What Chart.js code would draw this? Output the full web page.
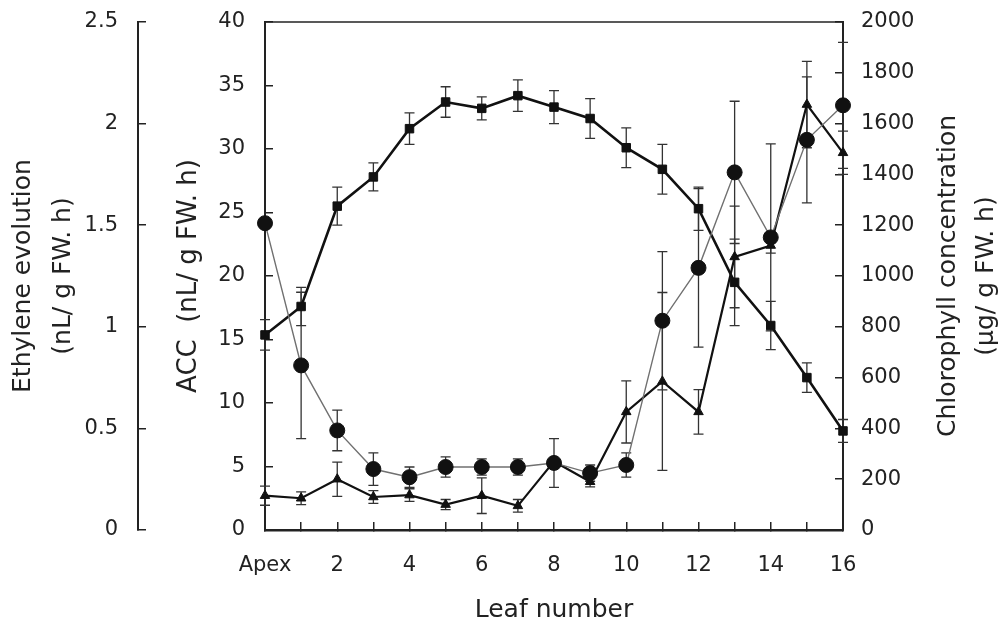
<!DOCTYPE html>
<html>
<head>
<meta charset="utf-8">
<title>Leaf number profile</title>
<script src="https://cdn.jsdelivr.net/npm/chart.js@4.4.1/dist/chart.umd.min.js"></script>
<style>
  html, body { margin: 0; padding: 0; background: #fff; }
  canvas { display: block; }
</style>
</head>
<body>
<canvas id="leafChart" width="999" height="626"></canvas>
<script>
const leafLabels = ['Apex', '1', '2', '3', '4', '5', '6', '7', '8', '9', '10', '11', '12', '13', '14', '15', '16'];

// chlorophyll, µg/g FW (squares)
const chlorophyll    = [768, 880, 1275, 1390, 1580, 1685, 1660, 1710, 1665, 1620, 1505, 1420, 1265, 975, 805, 600, 390];
const chlorophyllErr = [60, 75, 75, 55, 62, 60, 45, 62, 65, 78, 78, 98, 85, 170, 95, 58, 45];

// ethylene evolution, nL/g FW.h (circles)
const ethylene    = [1.51, 0.81, 0.49, 0.30, 0.26, 0.31, 0.31, 0.31, 0.33, 0.28, 0.32, 1.03, 1.29, 1.76, 1.44, 1.92, 2.09];
const ethyleneErr = [0, 0.36, 0.10, 0.08, 0.05, 0.05, 0.04, 0.04, 0.12, 0.04, 0.06, 0.34, 0.39, 0.35, 0.46, 0.31, 0.31];

// ACC, nL/g FW.h (triangles)
const acc    = [2.7, 2.5, 4.0, 2.6, 2.75, 2.0, 2.7, 1.9, 5.4, 3.8, 9.3, 11.7, 9.3, 21.5, 22.4, 33.5, 29.7];
const accErr = [0.75, 0.5, 1.35, 0.5, 0.5, 0.4, 1.4, 0.5, 0, 0.4, 2.45, 7.0, 1.75, 4.0, 0.6, 3.4, 1.7];

const FONT = "'DejaVu Sans', sans-serif";
const INK = '#222';

// vertical error bars with caps, drawn under the markers
const errorBars = {
  id: 'errorBars',
  beforeDatasetsDraw(chart) {
    const ctx = chart.ctx;
    chart.data.datasets.forEach((ds, i) => {
      if (!ds.errors) return;
      const meta = chart.getDatasetMeta(i);
      const scale = chart.scales[ds.yAxisID];
      ctx.save();
      ctx.strokeStyle = '#333';
      ctx.lineWidth = 1.3;
      meta.data.forEach((pt, j) => {
        const e = ds.errors[j];
        if (!e) return;
        const top = scale.getPixelForValue(ds.data[j] + e);
        const bot = scale.getPixelForValue(ds.data[j] - e);
        ctx.beginPath();
        ctx.moveTo(pt.x, top); ctx.lineTo(pt.x, bot);
        ctx.moveTo(pt.x - 5, top); ctx.lineTo(pt.x + 5, top);
        ctx.moveTo(pt.x - 5, bot); ctx.lineTo(pt.x + 5, bot);
        ctx.stroke();
      });
      ctx.restore();
    });
  }
};

// top edge of the frame and the right-hand title (reads bottom to top)
const frame = {
  id: 'frame',
  afterDraw(chart) {
    const { ctx, chartArea: a } = chart;
    ctx.save();
    ctx.strokeStyle = INK;
    ctx.lineWidth = 1.5;
    ctx.beginPath();
    ctx.moveTo(a.left, a.top);
    ctx.lineTo(a.right, a.top);
    ctx.stroke();

    const s = chart.scales.yChl;
    ctx.translate(s.left + 105, (a.top + a.bottom) / 2);
    ctx.rotate(-Math.PI / 2);
    ctx.fillStyle = INK;
    ctx.font = '25px ' + FONT;
    ctx.textAlign = 'center';
    ctx.textBaseline = 'middle';
    ctx.fillText('Chlorophyll concentration', 0, 0);
    ctx.fillText('(µg/ g FW. h)', 0, 38);
    ctx.restore();
  }
};

const tickFont = { family: FONT, size: 21 };
const plain = v => String(+Number(v).toFixed(1));

// fixed axis boxes; label overhang is not allowed to push the plot area in
function fixBox(size) {
  return s => {
    if (s.isHorizontal()) s.height = size; else s.width = size;
    s.paddingTop = 0;
    s.paddingBottom = 0;
    s.paddingLeft = 0;
    s.paddingRight = 0;
  };
}

new Chart(document.getElementById('leafChart'), {
  type: 'line',
  data: {
    labels: leafLabels,
    datasets: [{
      label: 'Ethylene',
      data: ethylene,
      errors: ethyleneErr,
      yAxisID: 'yEth',
      borderColor: '#707070',
      borderWidth: 1.4,
      pointStyle: 'circle',
      pointRadius: 7.5,
      pointBackgroundColor: '#111',
      pointBorderColor: '#111',
      pointBorderWidth: 1,
      tension: 0,
      clip: false
    }, {
      label: 'Chlorophyll',
      data: chlorophyll,
      errors: chlorophyllErr,
      yAxisID: 'yChl',
      borderColor: '#111',
      borderWidth: 2.6,
      pointStyle: 'rect',
      pointRadius: 6,
      pointBackgroundColor: '#111',
      pointBorderColor: '#111',
      pointBorderWidth: 1,
      tension: 0,
      clip: false
    }, {
      label: 'ACC',
      data: acc,
      errors: accErr,
      yAxisID: 'yAcc',
      borderColor: '#111',
      borderWidth: 2.2,
      pointStyle: 'triangle',
      pointRadius: 5.5,
      pointBackgroundColor: '#111',
      pointBorderColor: '#111',
      pointBorderWidth: 1,
      tension: 0,
      clip: false
    }]
  },
  options: {
    responsive: false,
    animation: false,
    devicePixelRatio: 1,
    layout: { padding: { top: 22, left: 0, right: 0, bottom: 0 } },
    plugins: { legend: { display: false }, tooltip: { enabled: false } },
    scales: {
      x: {
        type: 'category',
        position: 'bottom',
        offset: false,
        ticks: {
          autoSkip: false, maxRotation: 0, padding: 31, color: INK, font: tickFont,
          callback: (v, i) => (i % 2 === 0 ? leafLabels[i] : '')
        },
        grid: { drawOnChartArea: false, tickLength: -8, color: INK, lineWidth: 1.5 },
        border: { color: INK, width: 2.5 },
        title: {
          display: true, text: 'Leaf number', color: INK,
          font: { family: FONT, size: 25 }, padding: { top: 0, bottom: 1 }
        },
        afterFit: fixBox(96)
      },
      yEth: {
        type: 'linear',
        position: 'left',
        weight: 2,
        min: 0, max: 2.5,
        ticks: { stepSize: 0.5, padding: 28, color: INK, font: tickFont, callback: plain },
        grid: { drawOnChartArea: false, tickLength: -8, color: INK, lineWidth: 1.5 },
        border: { color: INK, width: 2 },
        title: {
          display: true, text: ['Ethylene evolution', '(nL/ g FW. h)'], color: INK,
          font: { family: FONT, size: 25, lineHeight: 1.6 }, padding: { top: 3, bottom: 0 }
        },
        afterFit: fixBox(138)
      },
      yAcc: {
        type: 'linear',
        position: 'left',
        weight: 1,
        min: 0, max: 40,
        ticks: { stepSize: 5, padding: 28, color: INK, font: tickFont, callback: plain },
        grid: { drawOnChartArea: false, tickLength: -8, color: INK, lineWidth: 1.5 },
        border: { color: INK, width: 2 },
        title: {
          display: true, text: 'ACC  (nL/ g FW. h)', color: INK,
          font: { family: FONT, size: 26, lineHeight: 1.2 }, padding: { top: 36, bottom: 0 }
        },
        afterFit: fixBox(127)
      },
      yChl: {
        type: 'linear',
        position: 'right',
        min: 0, max: 2000,
        ticks: { stepSize: 200, padding: 26, color: INK, font: tickFont, callback: plain },
        grid: { drawOnChartArea: false, tickLength: -8, color: INK, lineWidth: 1.5 },
        border: { color: INK, width: 2 },
        afterFit: fixBox(156)
      }
    }
  },
  plugins: [errorBars, frame]
});
</script>
</body>
</html>
